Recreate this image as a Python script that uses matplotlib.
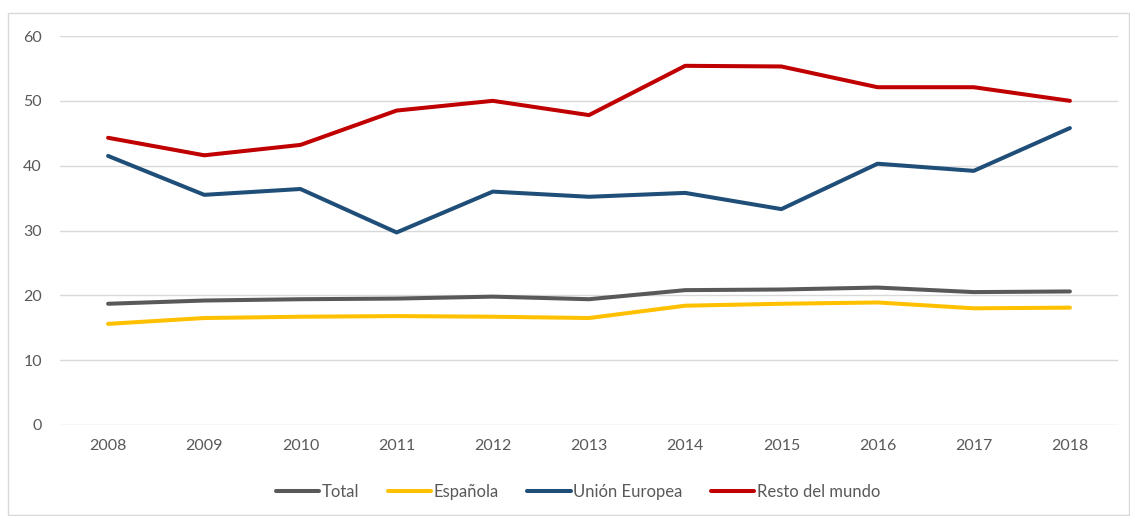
import matplotlib
matplotlib.use("Agg")
import matplotlib.pyplot as plt
from matplotlib.patches import Rectangle

# Data
years = ["2008", "2009", "2010", "2011", "2012", "2013", "2014", "2015", "2016", "2017", "2018"]
total = [18.7, 19.2, 19.4, 19.5, 19.8, 19.4, 20.8, 20.9, 21.2, 20.5, 20.6]
espanola = [15.6, 16.5, 16.7, 16.8, 16.7, 16.5, 18.4, 18.7, 18.9, 18.0, 18.1]
union_europea = [41.5, 35.5, 36.4, 29.7, 36.0, 35.2, 35.8, 33.3, 40.3, 39.2, 45.8]
resto_mundo = [44.3, 41.6, 43.2, 48.5, 50.0, 47.8, 55.4, 55.3, 52.1, 52.1, 50.0]

series = [
    ("Total", total, "#595959"),
    ("Española", espanola, "#FFC000"),
    ("Unión Europea", union_europea, "#1F4E79"),
    ("Resto del mundo", resto_mundo, "#C00000"),
]

plt.rcParams["font.family"] = ["Lato", "DejaVu Sans"]
text_color = "#595959"

fig = plt.figure(figsize=(11.3, 5.16), dpi=100)
ax = fig.add_axes([60 / 1130, 1 - 425 / 516, 1058 / 1130, 389 / 516])

x = list(range(len(years)))
for name, vals, color in series:
    ax.plot(x, vals, color=color, lw=2.9, label=name, solid_capstyle="round", solid_joinstyle="round")

ax.set_xlim(-0.5, len(years) - 0.5)
ax.set_ylim(0, 60)
ax.set_yticks(range(0, 61, 10))
ax.set_xticks(x)
ax.set_xticklabels(years)
ax.tick_params(axis="both", length=0, labelsize=11.5, labelcolor=text_color)
ax.tick_params(axis="x", pad=10)
ax.tick_params(axis="y", pad=13)
ax.grid(axis="y", color="#D9D9D9", lw=1)
ax.set_axisbelow(True)
for s in ax.spines.values():
    s.set_visible(False)

leg = fig.legend(loc="center", bbox_to_anchor=(578 / 1130, 1 - 492 / 516), ncol=4, frameon=False,
                 fontsize=12, handlelength=2.6, handletextpad=0.15, columnspacing=1.7)
for t in leg.get_texts():
    t.set_color(text_color)

# light frame around the chart area
fig.patches.append(Rectangle((8 / 1130, 0.002), 1121 / 1130, 1 - 13 / 516 - 0.002,
                             transform=fig.transFigure, fill=False, edgecolor="#D9D9D9", lw=1))

fig.savefig("out.png", dpi=100)
